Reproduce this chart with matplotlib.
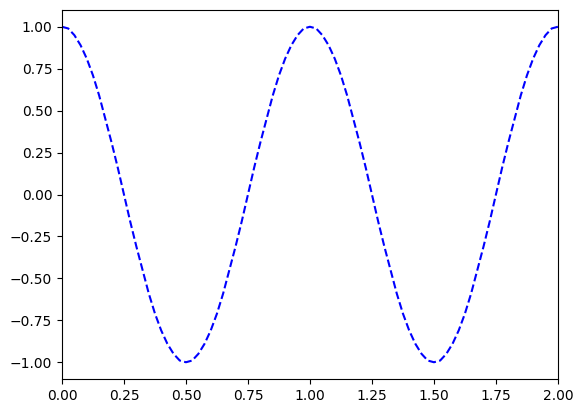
import numpy as np
import matplotlib
matplotlib.use("Agg")
import matplotlib.pyplot as plt

# valeurs lues sur le graphique, pas de 0.025 sur t
t_vals = [i * 0.025 for i in range(81)]
half_down = [1.00, 0.99, 0.95, 0.89, 0.81, 0.71, 0.59, 0.45, 0.31, 0.16,
             0.00, -0.16, -0.31, -0.45, -0.59, -0.71, -0.81, -0.89, -0.95, -0.99]
half_up = [-1.00, -0.99, -0.95, -0.89, -0.81, -0.71, -0.59, -0.45, -0.31, -0.16,
           0.00, 0.16, 0.31, 0.45, 0.59, 0.71, 0.81, 0.89, 0.95, 0.99]
y_vals = half_down + half_up + half_down + half_up + [1.00]

fig = plt.figure(figsize=(5.83, 4.13), dpi=100)
ax = fig.add_subplot(111)
fig.subplots_adjust(left=0.1063, right=0.957, top=0.9758, bottom=0.0823)

ax.plot(np.array(t_vals), np.array(y_vals), "b--")
ax.set_xlim(0, 2)

fig.savefig("out.png", dpi=100)
